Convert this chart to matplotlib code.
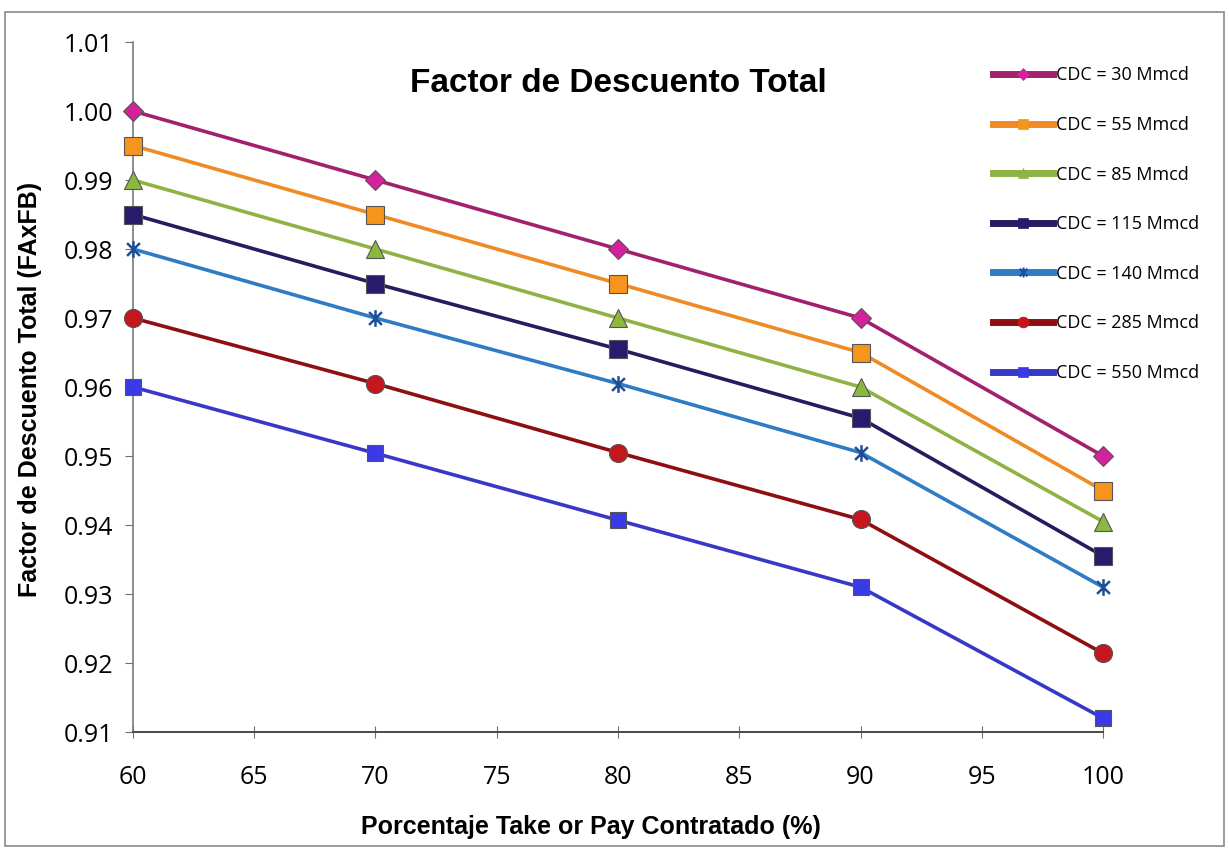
import matplotlib.pyplot as plt
from matplotlib.lines import Line2D
from matplotlib.path import Path
from matplotlib.patches import Rectangle

# datos
take_or_pay = [60, 70, 80, 90, 100]
cdc_30 = [1.000, 0.990, 0.980, 0.970, 0.950]
cdc_55 = [0.995, 0.985, 0.975, 0.965, 0.945]
cdc_85 = [0.990, 0.980, 0.970, 0.960, 0.9405]
cdc_115 = [0.985, 0.975, 0.9655, 0.9555, 0.9355]
cdc_140 = [0.980, 0.970, 0.9605, 0.9505, 0.931]
cdc_285 = [0.970, 0.9605, 0.9505, 0.9408, 0.9214]
cdc_550 = [0.960, 0.9504, 0.9407, 0.931, 0.912]

etiquetas = ['CDC = 30 Mmcd', 'CDC = 55 Mmcd', 'CDC = 85 Mmcd', 'CDC = 115 Mmcd',
             'CDC = 140 Mmcd', 'CDC = 285 Mmcd', 'CDC = 550 Mmcd']
series = [cdc_30, cdc_55, cdc_85, cdc_115, cdc_140, cdc_285, cdc_550]

# marcador tipo asterisco de Excel (x con barra vertical)
asterisco = Path([(-1, -1), (1, 1), (-1, 1), (1, -1), (0, -1.3), (0, 1.3)],
                 [Path.MOVETO, Path.LINETO, Path.MOVETO, Path.LINETO, Path.MOVETO, Path.LINETO])

estilos = [
    # color linea, color marcador, marcador, tamaño
    ('#A3206F', '#D4219C', 'D', 10),
    ('#F08A24', '#F7941D', 's', 13),
    ('#8FB244', '#8DB840', '^', 13),
    ('#2A1A5E', '#2A1A6E', 's', 13),
    ('#2F7BC4', '#1F4E99', asterisco, 12),
    ('#8E0F12', '#C4161C', 'o', 13),
    ('#3838C8', '#3A3AE6', 's', 12),
]

fig = plt.figure(figsize=(12.29, 8.49), dpi=100)
ax = fig.add_axes([0.1082, 0.1378, 0.7893, 0.8127])

for vals, (lc, mc, mk, ms) in zip(series, estilos):
    mew = 1.8 if mk is asterisco else 0.8
    ax.plot(take_or_pay, vals, color=lc, linewidth=2.6, marker=mk, markersize=ms,
            markerfacecolor=mc, markeredgecolor=mc if mk is asterisco else '#555555',
            markeredgewidth=mew, clip_on=False, zorder=3)

ax.set_xlim(60, 100)
ax.set_ylim(0.91, 1.01)
ax.set_xticks(range(60, 101, 5))
ax.set_yticks([0.91 + 0.01 * i for i in range(11)])
ax.set_yticklabels([f'{0.91 + 0.01 * i:.2f}' for i in range(11)])

for s in ['top', 'right']:
    ax.spines[s].set_visible(False)
ax.spines['left'].set_color('#7a7a7a')
ax.spines['bottom'].set_color('#4a4a4a')
ax.spines['left'].set_linewidth(1.2)
ax.spines['bottom'].set_linewidth(1.4)

ax.tick_params(axis='y', direction='out', length=6, color='#6f6f6f', labelsize=18, pad=8)
ax.tick_params(axis='x', direction='inout', length=8, color='#6f6f6f', labelsize=18, pad=20)
for lab in ax.get_xticklabels() + ax.get_yticklabels():
    lab.set_fontfamily('Open Sans')

ax.set_xlabel('Porcentaje Take or Pay Contratado (%)', fontsize=18, fontweight='bold',
              family='Liberation Sans')
ax.set_ylabel('Factor de Descuento Total (FAxFB)', fontsize=18, fontweight='bold',
              family='Liberation Sans')
ax.xaxis.set_label_coords(0.472, -0.120)
ax.yaxis.set_label_coords(-0.094, 0.496)
ax.text(0.5, 0.94, 'Factor de Descuento Total', transform=ax.transAxes, ha='center',
        va='center', fontsize=24, fontweight='bold', family='Liberation Sans')

# leyenda externa a la derecha
handles = []
for (lc, mc, mk, ms) in estilos:
    handles.append(Line2D([0], [0], color=lc, linewidth=5, marker=mk, markersize=ms * 0.6,
                          markerfacecolor=mc, markeredgecolor=mc,
                          markeredgewidth=1.5 if mk is asterisco else 0.5))
fig.legend(handles, etiquetas, loc='upper left', bbox_to_anchor=(0.795, 0.941),
           frameon=False, handlelength=3.3, labelspacing=1.75, handletextpad=0.2,
           prop={'family': 'Open Sans', 'size': 13})

# marco de la figura
fig.patches.append(Rectangle((0.004, 0.004), 0.992, 0.982, transform=fig.transFigure,
                             fill=False, edgecolor='#8a8a8a', linewidth=1.2))

fig.savefig('out.png', dpi=100)
